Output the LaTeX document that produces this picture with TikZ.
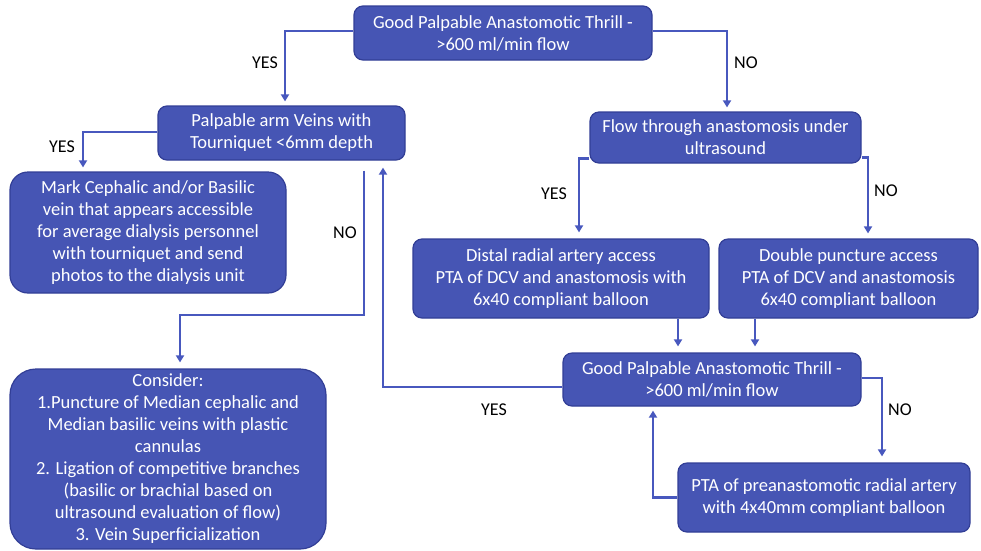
\documentclass[tikz,border=0pt]{standalone}
\usepackage{fontspec}
\setmainfont{Carlito}
\usetikzlibrary{arrows.meta}
\definecolor{boxfill}{RGB}{70,85,180}
\definecolor{boxline}{RGB}{50,62,150}
\definecolor{conn}{RGB}{72,88,190}
\begin{document}
\begin{tikzpicture}[x=1pt,y=-1pt,
  box/.style={draw=boxline, line width=1.2pt, fill=boxfill, text=white, rounded corners=9pt,
    align=center, inner sep=0pt, font=\fontsize{18.5}{22}\selectfont},
  arr/.style={draw=conn, line width=2.6pt, -{Triangle[width=8pt,length=7pt]}},
  lab/.style={font=\fontsize{18}{22}\selectfont, text=black}]
\useasboundingbox (0,0) rectangle (981,550);
% boxes
\node[box, minimum width=298, minimum height=54] (b1) at (503,33) {Good Palpable Anastomotic Thrill -\\>600 ml/min flow};
\node[box, minimum width=247, minimum height=54] (palp) at (281.5,133) {Palpable arm Veins with\\Tourniquet <6mm depth};
\node[box, minimum width=276, minimum height=121, rounded corners=18pt] (mark) at (148,232.5) {Mark Cephalic and/or Basilic\\vein that appears accessible\\for average dialysis personnel\\with tourniquet and send\\photos to the dialysis unit};
\node[box, minimum width=271, minimum height=51] (flow) at (725.5,137.5) {Flow through anastomosis under\\ultrasound};
\node[box, minimum width=296, minimum height=79] (distal) at (561,278.5) {Distal radial artery access\\PTA of DCV and anastomosis with\\6x40 compliant balloon};
\node[box, minimum width=259, minimum height=79] (double) at (848.5,278.5) {Double puncture access\\PTA of DCV and anastomosis\\6x40 compliant balloon};
\node[box, minimum width=298, minimum height=53] (good2) at (712,379.5) {Good Palpable Anastomotic Thrill -\\>600 ml/min flow};
\node[box, minimum width=292, minimum height=69] (pta) at (824,497.5) {PTA of preanastomotic radial artery\\with 4x40mm compliant balloon};
\node[box, minimum width=316, minimum height=180, rounded corners=26pt] (consider) at (168,459) {Consider:\\1.Puncture of Median cephalic and\\Median basilic veins with plastic\\cannulas\\2. Ligation of competitive branches\\(basilic or brachial based on\\ultrasound evaluation of flow)\\3. Vein Superficialization};
% labels
\node[lab] (l1) at (265,63) {YES};
\node[lab] (l2) at (746,63) {NO};
\node[lab] (l3) at (62,147) {YES};
\node[lab] (l4) at (345,233) {NO};
\node[lab] (l5) at (554,194) {YES};
\node[lab] (l6) at (886,191) {NO};
\node[lab] (l7) at (494,410) {YES};
\node[lab] (l8) at (900,410) {NO};
% connectors
\draw[arr, shorten >=4pt] ([yshift=2pt]b1.west) -| ([xshift=3.5pt]palp.north);
\draw[arr, shorten >=4pt] ([yshift=2pt]b1.east) -| ([xshift=1.5pt]flow.north);
\draw[arr, shorten >=4pt] ([yshift=1pt]palp.west) -| ([xshift=-65pt]mark.north);
\coordinate (bendA) at (364,315);
\coordinate (bendB) at (180,315);
\draw[arr, shorten >=6pt] (palp.south -| bendA) ++(0,10) -- (bendA) -- (bendB) -- (consider.north -| bendB);
\draw[arr, shorten >=7pt] ([yshift=-7.5pt]good2.west) -| ([xshift=101.5pt]palp.south);
\draw[arr, shorten >=6pt] ([yshift=-21pt]flow.west) -| ([xshift=18pt]distal.north);
\draw[arr, shorten >=5pt] ([yshift=-20pt]flow.east) -| ([xshift=19.5pt]double.north);
\draw[arr, shorten >=6pt] ([xshift=117pt]distal.south) -- ([xshift=-34pt]good2.north);
\draw[arr, shorten >=6pt] ([xshift=-93.5pt]double.south) -- ([xshift=43pt]good2.north);
\draw[arr, shorten >=6pt] ([yshift=1.5pt]good2.east) -| ([xshift=58pt]pta.north);
\draw[arr, shorten >=4pt] (pta.west) -| ([xshift=-59pt]good2.south);
\end{tikzpicture}
\end{document}
